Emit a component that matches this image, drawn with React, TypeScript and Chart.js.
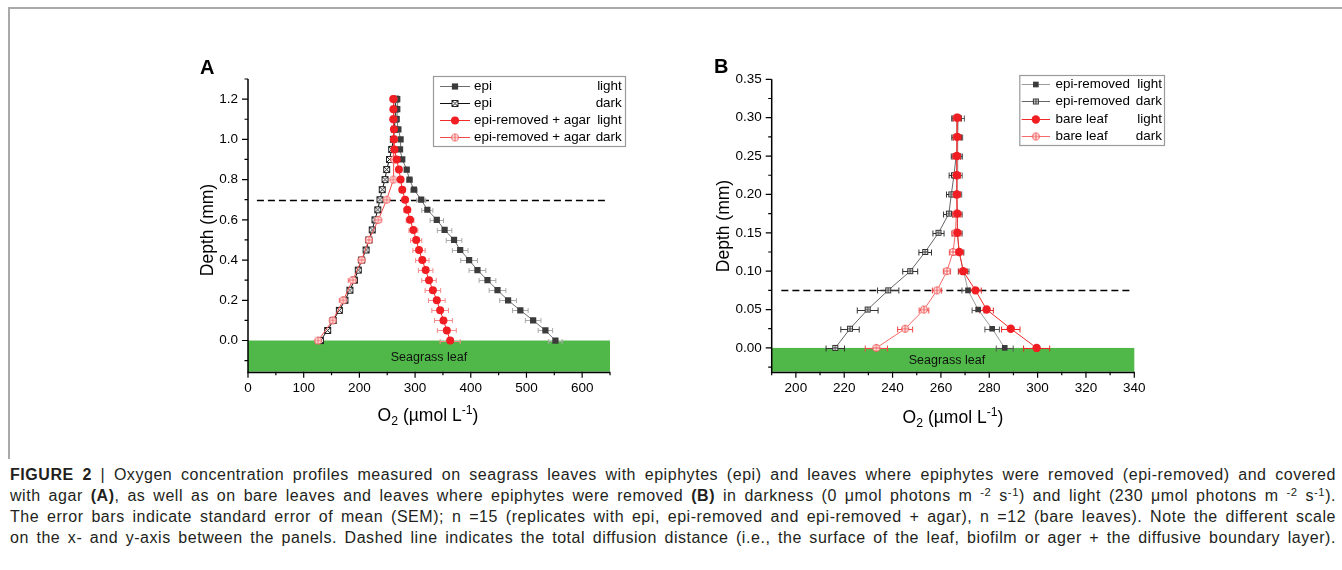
import React, { useEffect, useRef } from 'react';
import { Chart, registerables } from 'chart.js';
Chart.register(...registerables);

const FONT = "'Liberation Sans', Arial, Helvetica, sans-serif";
const LEAF_COLOR = '#50b848';

// ---------------- Panel A data ----------------
const A_DEPTH = [0, 0.05, 0.1, 0.15, 0.2, 0.25, 0.3, 0.35, 0.4, 0.45, 0.5, 0.55, 0.6, 0.65, 0.7, 0.75, 0.8, 0.85, 0.9, 0.95, 1.0, 1.05, 1.1, 1.15, 1.2];
const A_EPI_LIGHT = [552, 534, 512, 489, 467, 448, 430, 412, 397, 381, 370, 353, 339, 322, 311, 298, 290, 285, 277, 273, 274, 270, 267, 268, 268];
const A_EPI_LIGHT_SEM = [12, 13, 14, 14, 15, 15, 15, 15, 15, 14, 14, 13, 12, 10, 8, 6, 5, 4, 3, 3, 3, 3, 3, 3, 3];
const A_EPI_DARK = [130, 143, 153, 164, 174, 183, 191, 198, 204, 212, 217, 223, 228, 233, 237, 241, 246, 249, 254, 258, 261, 263, 264, 264, 265];
const A_EPI_DARK_SEM = [4, 4, 4, 4, 4, 4, 5, 4, 4, 4, 4, 3, 3, 3, 3, 3, 3, 3, 3, 3, 3, 3, 3, 3, 3];
const A_AGAR_LIGHT = [363, 357, 351, 345, 339, 332, 325, 319, 313, 307, 302, 297, 291, 286, 282, 277, 274, 271, 267, 263, 262, 262, 261, 261, 261];
const A_AGAR_LIGHT_SEM = [18, 17, 16, 15, 15, 14, 13, 13, 12, 11, 10, 8, 7, 6, 5, 5, 4, 3, 3, 3, 2, 2, 2, 2, 2];
const A_DEPTH_AGAR_DARK = [0, 0.1, 0.2, 0.3, 0.4, 0.5, 0.6, 0.7, 0.8, 0.9, 1.0, 1.1, 1.2];
const A_AGAR_DARK = [126, 152, 171, 188, 204, 217, 234, 249, 261, 262, 262, 261, 261];
const A_AGAR_DARK_SEM = [5, 5, 7, 8, 6, 6, 5, 4, 3, 3, 3, 3, 3];
const A_X_TICKS = [0, 100, 200, 300, 400, 500, 600];
const A_X_MINOR = [50, 150, 250, 350, 450, 550, 650];
const A_Y_TICKS = [0, 0.2, 0.4, 0.6, 0.8, 1.0, 1.2];
const A_Y_MINOR = [-0.1, 0.1, 0.3, 0.5, 0.7, 0.9, 1.1, 1.3];
const A_LEGEND = [['epi', 'light'], ['epi', 'dark'], ['epi-removed + agar', 'light'], ['epi-removed + agar', 'dark']];
const A_DIFFUSION_DEPTH = 0.7;

// ---------------- Panel B data ----------------
const B_DEPTH = [0, 0.025, 0.05, 0.075, 0.1, 0.125, 0.15, 0.175, 0.2, 0.225, 0.25, 0.275, 0.3];
const B_EPIREM_LIGHT = [286.4, 281.2, 275.4, 271.2, 269.4, 267.5, 266.8, 266.8, 266.6, 266.8, 266.9, 267.0, 267.2];
const B_EPIREM_LIGHT_SEM = [3.5, 3, 2.5, 2.5, 2.2, 2, 2, 2, 2, 2, 2, 2, 2.5];
const B_EPIREM_DARK = [216.3, 222.4, 229.7, 238.2, 247.3, 253.5, 259.0, 263.3, 264.3, 265.4, 266.3, 266.5, 266.5];
const B_EPIREM_DARK_SEM = [3.8, 3.8, 4.3, 4.4, 3.1, 2.6, 2.3, 2.2, 2.0, 2.0, 2.0, 2.0, 2.0];
const B_BARE_LIGHT = [299.6, 288.9, 278.9, 274.3, 269.2, 267.6, 266.8, 266.8, 266.6, 266.6, 266.6, 266.8, 266.8];
const B_BARE_LIGHT_SEM = [5.4, 3.8, 2.8, 2.4, 1.8, 1.6, 1.5, 1.5, 1.5, 1.5, 1.5, 1.5, 1.5];
const B_BARE_DARK = [233.3, 245.2, 253.0, 258.4, 262.5, 265.0, 266.0, 266.4, 266.5, 266.5, 266.5, 266.6, 266.6];
const B_BARE_DARK_SEM = [4.6, 3.1, 2.0, 1.9, 1.5, 1.5, 1.5, 1.5, 1.5, 1.5, 1.5, 1.5, 1.5];
const B_X_TICKS = [200, 220, 240, 260, 280, 300, 320, 340];
const B_X_MINOR = [190, 210, 230, 250, 270, 290, 310, 330];
const B_Y_TICKS = [0, 0.05, 0.1, 0.15, 0.2, 0.25, 0.3, 0.35];
const B_Y_MINOR = [-0.025, 0.025, 0.075, 0.125, 0.175, 0.225, 0.275, 0.325];
const B_LEGEND = [['epi-removed', 'light'], ['epi-removed', 'dark'], ['bare leaf', 'light'], ['bare leaf', 'dark']];
const B_DIFFUSION_DEPTH = 0.075;

function makeMarker(shape: string, d: number, color: string): HTMLCanvasElement {
  const s = Math.ceil(d) + 3;
  const c = document.createElement('canvas');
  c.width = s;
  c.height = s;
  const g = c.getContext('2d')!;
  const m = s / 2;
  const r = d / 2;
  g.lineWidth = 1;
  g.strokeStyle = color;
  g.fillStyle = '#fff';
  if (shape.startsWith('sq')) {
    g.fillRect(m - r, m - r, d, d);
    g.strokeRect(m - r, m - r, d, d);
  } else {
    g.beginPath();
    g.arc(m, m, r, 0, Math.PI * 2);
    g.fill();
    g.stroke();
  }
  g.beginPath();
  if (shape.endsWith('X')) {
    g.moveTo(m - r, m - r); g.lineTo(m + r, m + r);
    g.moveTo(m + r, m - r); g.lineTo(m - r, m + r);
  } else {
    g.moveTo(m - r, m); g.lineTo(m + r, m);
    g.moveTo(m, m - r); g.lineTo(m, m + r);
  }
  g.stroke();
  return c;
}

const pts = (xs: number[], ys: number[]) => xs.map((v, i) => ({ x: v, y: ys[i] }));

function decorPlugin(opt: any) {
  return {
    id: 'decor',
    beforeDatasetsDraw(chart: any) {
      const { ctx, chartArea: ca } = chart;
      const x = chart.scales.x;
      const y = chart.scales.y;
      ctx.save();
      const y0 = y.getPixelForValue(0);
      ctx.fillStyle = LEAF_COLOR;
      ctx.fillRect(ca.left, y0, ca.right - ca.left, ca.bottom - y0);
      ctx.fillStyle = '#111';
      ctx.font = `12.5px ${FONT}`;
      ctx.textAlign = 'center';
      ctx.textBaseline = 'middle';
      ctx.fillText('Seagrass leaf', x.getPixelForValue(opt.leafLabelX), (y0 + ca.bottom) / 2 + 1);
      // dashed line
      ctx.setLineDash([7, 4]);
      ctx.lineWidth = 1.5;
      ctx.strokeStyle = '#000';
      const yd = Math.round(y.getPixelForValue(opt.dashDepth)) + 0.5;
      ctx.beginPath();
      ctx.moveTo(x.getPixelForValue(opt.dashFrom), yd);
      ctx.lineTo(x.getPixelForValue(opt.dashTo), yd);
      ctx.stroke();
      ctx.setLineDash([]);
      // error bars
      chart.data.datasets.forEach((ds: any) => {
        if (!ds.sem) return;
        ctx.strokeStyle = ds.errColor;
        ctx.lineWidth = 1;
        ds.data.forEach((p: any, i: number) => {
          const e = ds.sem[i];
          const xl = x.getPixelForValue(p.x - e);
          const xr = x.getPixelForValue(p.x + e);
          const py = Math.round(y.getPixelForValue(p.y)) + 0.5;
          const cap = opt.cap;
          ctx.beginPath();
          ctx.moveTo(xl, py); ctx.lineTo(xr, py);
          ctx.moveTo(xl, py - cap); ctx.lineTo(xl, py + cap);
          ctx.moveTo(xr, py - cap); ctx.lineTo(xr, py + cap);
          ctx.stroke();
        });
      });
      ctx.restore();
    },
    afterDraw(chart: any) {
      const { ctx, chartArea: ca } = chart;
      const x = chart.scales.x;
      const y = chart.scales.y;
      ctx.save();
      ctx.strokeStyle = '#000';
      ctx.lineWidth = 1.5;
      ctx.beginPath();
      ctx.moveTo(ca.left, ca.top);
      ctx.lineTo(ca.left, ca.bottom + 0.75);
      ctx.lineTo(ca.right, ca.bottom + 0.75);
      ctx.stroke();
      ctx.lineWidth = 1.2;
      ctx.beginPath();
      opt.xMajor.forEach((v: number) => { const px = x.getPixelForValue(v); ctx.moveTo(px, ca.bottom); ctx.lineTo(px, ca.bottom + 6); });
      opt.xMinor.forEach((v: number) => { const px = x.getPixelForValue(v); ctx.moveTo(px, ca.bottom); ctx.lineTo(px, ca.bottom + 3.5); });
      opt.yMajor.forEach((v: number) => { const py = y.getPixelForValue(v); ctx.moveTo(ca.left, py); ctx.lineTo(ca.left - 6, py); });
      opt.yMinor.forEach((v: number) => { const py = y.getPixelForValue(v); ctx.moveTo(ca.left, py); ctx.lineTo(ca.left - 3.5, py); });
      ctx.stroke();
      // legend
      const L = opt.legend;
      ctx.fillStyle = '#fff';
      ctx.fillRect(L.x, L.y, L.w, L.h);
      ctx.strokeStyle = '#9a9a9a';
      ctx.lineWidth = 1.2;
      ctx.strokeRect(L.x + 0.5, L.y + 0.5, L.w, L.h);
      ctx.font = `13.4px ${FONT}`;
      ctx.textBaseline = 'middle';
      opt.entries.forEach((en: string[], i: number) => {
        const ds = chart.data.datasets[i];
        const ry = Math.round(L.y + L.row0 + i * L.rowH) + 0.5;
        ctx.strokeStyle = ds.borderColor;
        ctx.lineWidth = 1;
        ctx.beginPath();
        ctx.moveTo(L.x + L.line0, ry);
        ctx.lineTo(L.x + L.line1, ry);
        ctx.stroke();
        const mx = L.x + (L.line0 + L.line1) / 2;
        const st = ds.pointStyle;
        if (typeof st === 'object') {
          ctx.drawImage(st, mx - st.width / 2, ry - st.height / 2);
        } else if (st === 'rect') {
          const s = ds.pointRadius * Math.SQRT1_2;
          ctx.fillStyle = ds.pointBackgroundColor;
          ctx.fillRect(mx - s, ry - s, 2 * s, 2 * s);
        } else {
          ctx.fillStyle = ds.pointBackgroundColor;
          ctx.beginPath();
          ctx.arc(mx, ry, ds.pointRadius, 0, Math.PI * 2);
          ctx.fill();
        }
        ctx.fillStyle = '#000';
        ctx.textAlign = 'left';
        ctx.fillText(en[0], L.x + L.text0, ry);
        ctx.textAlign = 'right';
        ctx.fillText(en[1], L.x + L.textR, ry);
      });
      ctx.restore();
    },
  };
}

function scaleOpts(min: number, max: number, ticks: number[], fmt: (v: number) => string, fitFn: (s: any) => void, padding: number) {
  return {
    type: 'linear',
    min,
    max,
    afterBuildTicks: (s: any) => { s.ticks = ticks.map((v) => ({ value: v })); },
    afterFit: fitFn,
    grid: { display: false, drawTicks: false },
    border: { display: false },
    ticks: { padding, autoSkip: false, maxRotation: 0, color: '#000', font: { size: 13.5, family: FONT }, callback: (v: any) => fmt(Number(v)) },
  };
}

function buildA() {
  const sqX = makeMarker('sqX', 6, '#222');
  const cPlus = makeMarker('cPlus', 7, '#f25c5c');
  return {
    type: 'scatter',
    data: {
      datasets: [
        { label: 'epi light', data: pts(A_EPI_LIGHT, A_DEPTH), sem: A_EPI_LIGHT_SEM, errColor: '#aaaaaa', showLine: true, borderColor: '#6e6e6e', borderWidth: 1, pointStyle: 'rect', pointRadius: 4.4, pointBackgroundColor: '#3b3b3b', pointBorderColor: '#3b3b3b', pointBorderWidth: 0, order: 2 },
        { label: 'epi dark', data: pts(A_EPI_DARK, A_DEPTH), sem: A_EPI_DARK_SEM, errColor: '#444444', showLine: true, borderColor: '#111111', borderWidth: 1, pointStyle: sqX, pointRadius: 3, order: 3 },
        { label: 'agar light', data: pts(A_AGAR_LIGHT, A_DEPTH), sem: A_AGAR_LIGHT_SEM, errColor: '#f58a8a', showLine: true, borderColor: '#f02a2a', borderWidth: 1, pointStyle: 'circle', pointRadius: 4, pointBackgroundColor: '#f01e23', pointBorderColor: '#f01e23', pointBorderWidth: 0, order: 0 },
        { label: 'agar dark', data: pts(A_AGAR_DARK, A_DEPTH_AGAR_DARK), sem: A_AGAR_DARK_SEM, errColor: '#f26a6a', showLine: true, borderColor: '#f24848', borderWidth: 1, pointStyle: cPlus, pointRadius: 3, order: 1 },
      ],
    },
    options: {
      animation: false,
      responsive: false,
      events: [],
      layout: { padding: { left: 0, right: 60, top: 39, bottom: 0 } },
      plugins: { legend: { display: false }, tooltip: { enabled: false } },
      scales: {
        x: scaleOpts(0, 650, A_X_TICKS, (v) => String(v), (s: any) => { s.height = 68.3; }, 8),
        y: scaleOpts(-0.155, 1.3, A_Y_TICKS, (v) => v.toFixed(1), (s: any) => { s.width = 98; }, 10),
      },
    },
    plugins: [decorPlugin({
      leafLabelX: 325, dashDepth: A_DIFFUSION_DEPTH, dashFrom: 16, dashTo: 644, cap: 2.5,
      xMajor: A_X_TICKS, xMinor: A_X_MINOR, yMajor: A_Y_TICKS, yMinor: A_Y_MINOR,
      entries: A_LEGEND,
      legend: { x: 283, y: 36, w: 192, h: 70, row0: 10, rowH: 17.1, line0: 7, line1: 37, text0: 41, textR: 188.7 },
    })],
  };
}

function buildB() {
  const sqP = makeMarker('sqP', 5, '#333');
  const cPlus = makeMarker('cPlus', 7, '#f05050');
  return {
    type: 'scatter',
    data: {
      datasets: [
        { label: 'epi-removed light', data: pts(B_EPIREM_LIGHT, B_DEPTH), sem: B_EPIREM_LIGHT_SEM, errColor: '#555555', showLine: true, borderColor: '#9a9a9a', borderWidth: 1, pointStyle: 'rect', pointRadius: 4, pointBackgroundColor: '#3b3b3b', pointBorderColor: '#3b3b3b', pointBorderWidth: 0, order: 2 },
        { label: 'epi-removed dark', data: pts(B_EPIREM_DARK, B_DEPTH), sem: B_EPIREM_DARK_SEM, errColor: '#333333', showLine: true, borderColor: '#666666', borderWidth: 1, pointStyle: sqP, pointRadius: 3, order: 3 },
        { label: 'bare leaf light', data: pts(B_BARE_LIGHT, B_DEPTH), sem: B_BARE_LIGHT_SEM, errColor: '#e82828', showLine: true, borderColor: '#f02a2a', borderWidth: 1, pointStyle: 'circle', pointRadius: 4.2, pointBackgroundColor: '#f01e23', pointBorderColor: '#f01e23', pointBorderWidth: 0, order: 0 },
        { label: 'bare leaf dark', data: pts(B_BARE_DARK, B_DEPTH), sem: B_BARE_DARK_SEM, errColor: '#f04848', showLine: true, borderColor: '#f46a6a', borderWidth: 1, pointStyle: cPlus, pointRadius: 3, order: 1 },
      ],
    },
    options: {
      animation: false,
      responsive: false,
      events: [],
      layout: { padding: { left: 0, right: 65.7, top: 39.3, bottom: 0 } },
      plugins: { legend: { display: false }, tooltip: { enabled: false } },
      scales: {
        x: scaleOpts(190, 340, B_X_TICKS, (v) => String(v), (s: any) => { s.height = 68.3; }, 8),
        y: scaleOpts(-0.031, 0.35, B_Y_TICKS, (v) => v.toFixed(2), (s: any) => { s.width = 91.7; }, 10),
      },
    },
    plugins: [decorPlugin({
      leafLabelX: 262.5, dashDepth: B_DIFFUSION_DEPTH, dashFrom: 194, dashTo: 338.5, cap: 3,
      xMajor: B_X_TICKS, xMinor: B_X_MINOR, yMajor: B_Y_TICKS, yMinor: B_Y_MINOR,
      entries: B_LEGEND,
      legend: { x: 339.3, y: 35, w: 144.7, h: 70, row0: 9.3, rowH: 17.1, line0: 2.4, line1: 30.7, text0: 36.2, textR: 142.6 },
    })],
  };
}

function PanelChart({ build, left, top, width, height }: any) {
  const ref = useRef<HTMLCanvasElement>(null);
  useEffect(() => {
    const chart = new Chart(ref.current as HTMLCanvasElement, build() as any);
    return () => chart.destroy();
  }, []);
  return <canvas ref={ref} width={width} height={height} style={{ position: 'absolute', left, top, width, height }} />;
}

const sub = { fontSize: '0.7em', position: 'relative' as const, top: '0.3em' };
const sup = { fontSize: '0.7em', position: 'relative' as const, top: '-0.55em' };

function XTitle({ cx, top }: { cx: number; top: number }) {
  return (
    <div style={{ position: 'absolute', left: cx - 100, top, width: 200, textAlign: 'center', fontSize: 17.5, lineHeight: '20px', color: '#000' }}>
      O<span style={sub}>2</span> (µmol L<span style={sup}>-1</span>)
    </div>
  );
}

function YTitle({ cx, cy }: { cx: number; cy: number }) {
  return (
    <div style={{ position: 'absolute', left: cx - 100, top: cy - 10, width: 200, textAlign: 'center', fontSize: 17.5, lineHeight: '20px', color: '#000', transform: 'rotate(-90deg)' }}>
      Depth (mm)
    </div>
  );
}

const capLine = (top: number) => ({
  position: 'absolute' as const, left: 10, top, width: 1326, fontSize: 16, lineHeight: '21px', color: '#231f20',
  textAlign: 'justify' as const, textAlignLast: 'justify' as const, letterSpacing: '0.55px',
});
const csup = { fontSize: '0.7em', verticalAlign: '0.45em', lineHeight: 0 };

export default function App() {
  useEffect(() => { document.body.style.margin = '0'; }, []);
  return (
    <div style={{ position: 'absolute', left: 0, top: 0, width: 1342, height: 570, background: '#fff', overflow: 'hidden', fontFamily: FONT }}>
      <div style={{ position: 'absolute', left: 8, top: 7, width: 1340, height: 450, borderTop: '2px solid #a9a9a9', borderLeft: '2px solid #a9a9a9' }} />
      <PanelChart build={buildA} left={150} top={40} width={520} height={400} />
      <PanelChart build={buildB} left={680} top={40} width={520} height={400} />
      <div style={{ position: 'absolute', left: 200, top: 56.5, fontSize: 20, lineHeight: '20px', fontWeight: 'bold', color: '#000' }}>A</div>
      <div style={{ position: 'absolute', left: 714, top: 56, fontSize: 20, lineHeight: '20px', fontWeight: 'bold', color: '#000' }}>B</div>
      <XTitle cx={428} top={405} />
      <XTitle cx={953} top={407} />
      <YTitle cx={207} cy={230} />
      <YTitle cx={723} cy={225.5} />
      <div style={capLine(463.5)}>
        <b>FIGURE 2</b> | Oxygen concentration profiles measured on seagrass leaves with epiphytes (epi) and leaves where epiphytes were removed (epi-removed) and covered
      </div>
      <div style={capLine(484.5)}>
        with agar <b>(A)</b>, as well as on bare leaves and leaves where epiphytes were removed <b>(B)</b> in darkness (0 μmol photons m <span style={csup}>-2</span> s<span style={csup}>-1</span>) and light (230 μmol photons m <span style={csup}>-2</span> s<span style={csup}>-1</span>).
      </div>
      <div style={capLine(505.5)}>
        The error bars indicate standard error of mean (SEM); n =15 (replicates with epi, epi-removed and epi-removed + agar), n =12 (bare leaves). Note the different scale
      </div>
      <div style={capLine(526.5)}>
        on the x- and y-axis between the panels. Dashed line indicates the total diffusion distance (i.e., the surface of the leaf, biofilm or ager + the diffusive boundary layer).
      </div>
    </div>
  );
}
